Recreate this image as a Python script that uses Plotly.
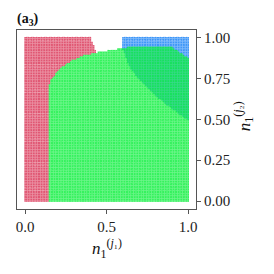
import numpy as np
import plotly.graph_objects as go

# sampling grid of the (n1^(j1), n1^(j2)) plane
grid_vals = np.round(np.linspace(0.0, 1.0, 101), 4)

# region boundaries (data coords)
green_bx = [0.145, 1.005, 1.005, 0.89, 0.69, 0.60, 0.45, 0.36, 0.29, 0.23, 0.19, 0.16, 0.145]
green_by = [-0.005, -0.005, 0.87, 0.95, 0.95, 0.935, 0.91, 0.89, 0.86, 0.82, 0.78, 0.74, 0.70]

red_bx = [-0.005, 0.145, 0.145, 0.44, 0.425, 0.41, 0.40, -0.005]
red_by = [-0.005, -0.005, 0.60, 0.90, 0.94, 0.975, 1.005, 1.005]

blue_bx = [0.595, 1.005, 1.005, 0.90, 0.80, 0.70, 0.64, 0.615, 0.595]
blue_by = [1.005, 1.005, 0.49, 0.565, 0.645, 0.74, 0.82, 0.89, 0.93]

x_ticks = [0.0, 0.5, 1.0]
x_ticklabels = ["0.0", "0.5", "1.0"]
y_ticks = [0.0, 0.25, 0.5, 0.75, 1.0]
y_ticklabels = ["0.00", "0.25", "0.50", "0.75", "1.00"]

red_color = "#d8284c"
green_color = "#10f040"
blue_color = "#2a8cf8"


def inside(px, py, vx, vy):
    vx = np.asarray(vx); vy = np.asarray(vy)
    res = np.zeros(px.shape, dtype=bool)
    n = len(vx)
    j = n - 1
    for i in range(n):
        xi, yi, xj, yj = vx[i], vy[i], vx[j], vy[j]
        cond = ((yi > py) != (yj > py)) & (px < (xj - xi) * (py - yi) / (yj - yi + 1e-12) + xi)
        res ^= cond
        j = i
    return res


GX, GY = np.meshgrid(grid_vals, grid_vals)
GX = GX.ravel(); GY = GY.ravel()
is_green = inside(GX, GY, green_bx, green_by)
is_red = inside(GX, GY, red_bx, red_by) & ~is_green
is_blue = inside(GX, GY, blue_bx, blue_by)

fig = go.Figure()
fig.add_trace(go.Scatter(x=GX[is_red], y=GY[is_red], mode="markers",
                         marker=dict(symbol="square", size=1.6, color=red_color, line=dict(width=0)),
                         opacity=0.78, hoverinfo="skip", showlegend=False))
fig.add_trace(go.Scatter(x=GX[is_blue], y=GY[is_blue], mode="markers",
                         marker=dict(symbol="square", size=1.6, color=blue_color, line=dict(width=0)),
                         opacity=0.9, hoverinfo="skip", showlegend=False))
fig.add_trace(go.Scatter(x=GX[is_green], y=GY[is_green], mode="markers",
                         marker=dict(symbol="square", size=1.7, color=green_color, line=dict(width=0)),
                         opacity=0.84, hoverinfo="skip", showlegend=False))

font_fam = "Liberation Serif, DejaVu Serif, serif"
axis_common = dict(showgrid=False, zeroline=False, showline=True, linecolor="#555555", linewidth=1,
                   mirror=True, ticks="outside", ticklen=4, tickcolor="#555555",
                   tickfont=dict(family=font_fam, size=15, color="#222222"))
# page body has an 8px margin, so the figure origin sits at (8, 8) in the window
fig.update_layout(
    width=274, height=274,
    margin=dict(l=9, r=86, t=22, b=73),
    paper_bgcolor="white", plot_bgcolor="white",
    xaxis=dict(range=[-0.05, 1.048], tickvals=x_ticks, ticktext=x_ticklabels, **axis_common),
    yaxis=dict(range=[-0.049, 1.047], tickvals=y_ticks, ticktext=y_ticklabels, side="right", **axis_common),
    annotations=[
        dict(text="<b>(a<sub>3</sub>)</b>", xref="paper", yref="paper", x=-0.01, y=1.0,
             xanchor="left", yanchor="bottom", showarrow=False,
             font=dict(family=font_fam, size=14, color="#111111")),
        dict(text="<i>n</i><sub>1</sub><sup>(<i>j</i>₁)</sup>", xref="paper", yref="paper",
             x=0.5, y=-0.14, xanchor="center", yanchor="top", showarrow=False,
             font=dict(family=font_fam, size=17, color="#111111")),
        dict(text="<i>n</i><sub>1</sub><sup>(<i>j</i>₂)</sup>", xref="paper", yref="paper",
             x=1.27, y=0.52, xanchor="center", yanchor="middle", showarrow=False, textangle=-90,
             font=dict(family=font_fam, size=17, color="#111111")),
    ],
)

fig.write_html("out.html")
